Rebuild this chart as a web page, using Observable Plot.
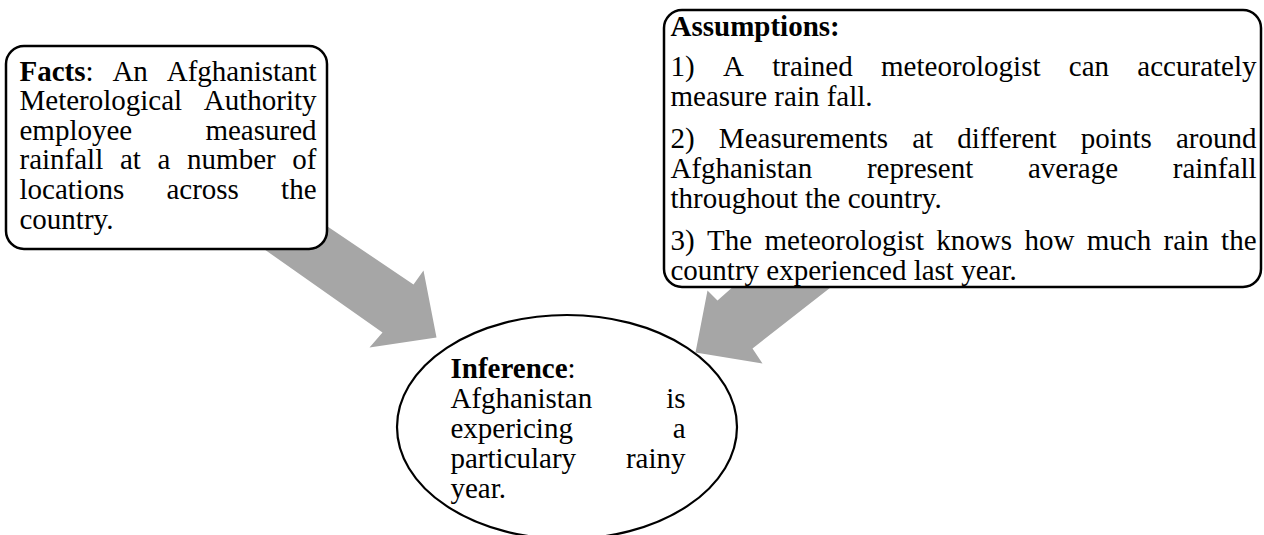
<!DOCTYPE html>
<html><head><meta charset="utf-8">
<script src="https://cdn.jsdelivr.net/npm/d3@7"></script>
<script src="https://cdn.jsdelivr.net/npm/@observablehq/plot@0.6"></script>
<style>html,body{margin:0;padding:0;background:#fff;overflow:hidden;}</style>
</head><body><div id="chart"></div>
<script>
// ---------- text content (bold segments between *) ----------
const factsLines = ["*Facts*: An Afghanistant", "Meterological Authority", "employee measured", "rainfall at a number of", "locations across the", "country."];
const assumptionsTitle = ["*Assumptions:*"];
const assumption1 = ["1) A trained meteorologist can accurately", "measure rain fall."];
const assumption2 = ["2) Measurements at different points around", "Afghanistan represent average rainfall", "throughout the country."];
const assumption3 = ["3) The meteorologist knows how much rain the", "country experienced last year."];
const inferenceTitle = ["*Inference*:"];
const inferenceLines = ["Afghanistan is", "expericing a", "particulary rainy", "year."];

// ---------- layout ----------
const W = 1264, H = 535;
const FS = 29;
const FONT = "Liberation Serif";

const factsBox = {x1: 6, x2: 327, y1: 46, y2: 249};
const assumBox = {x1: 664, x2: 1261, y1: 10, y2: 287};
const ellipse = {cx: 567, cy: 427, rx: 170, ry: 112};

const blocks = [
  {lines: factsLines, x0: 19, x1: 316, y: 80, lh: 29.6},
  {lines: assumptionsTitle, x0: 670, x1: 1256, y: 35, lh: 30},
  {lines: assumption1, x0: 670, x1: 1256, y: 75, lh: 30},
  {lines: assumption2, x0: 670, x1: 1256, y: 147, lh: 30},
  {lines: assumption3, x0: 670, x1: 1256, y: 249, lh: 30},
  {lines: inferenceTitle, x0: 450, x1: 685, y: 377, lh: 30},
  {lines: inferenceLines, x0: 450, x1: 685, y: 407, lh: 30}
];

const arrowShapes = {
  left:  [[290,201],[413,284],[423,270],[436,337],[369,347],[382,332],[230,225]],
  right: [[760,262],[717,300],[707,290],[695,352],[762,363],[752,348],[862,262]]
};

// ---------- text layout (justified) ----------
const ctx = document.createElement("canvas").getContext("2d");
function measure(s, bold) {
  ctx.font = `${bold ? "bold " : ""}${FS}px "${FONT}"`;
  return ctx.measureText(s).width;
}
const spaceW = measure(" ", false);
const words = [];
for (const b of blocks) {
  b.lines.forEach((line, li) => {
    const y = b.y + li * b.lh;
    const ws = line.split(" ").map(w => {
      const segs = w.split("*").map((s, i) => ({s, bold: i % 2 === 1})).filter(d => d.s);
      segs.forEach(d => d.w = measure(d.s, d.bold));
      return {segs, w: d3.sum(segs, d => d.w)};
    });
    const last = li === b.lines.length - 1;
    const total = d3.sum(ws, d => d.w);
    const gap = (!last && ws.length > 1) ? (b.x1 - b.x0 - total) / (ws.length - 1) : spaceW;
    let x = b.x0;
    for (const wd of ws) {
      let sx = x;
      for (const sg of wd.segs) { words.push({x: sx, y, text: sg.s, bold: sg.bold}); sx += sg.w; }
      x += wd.w + gap;
    }
  });
}

const arrowPts = [];
for (const [k, pts] of Object.entries(arrowShapes)) for (const [x, y] of pts) arrowPts.push({arrow: k, x, y});

const chart = Plot.plot({
  width: W, height: H,
  marginTop: 0, marginRight: 0, marginBottom: 0, marginLeft: 0,
  x: {domain: [0, W], range: [0, W], axis: null},
  y: {domain: [0, H], range: [0, H], axis: null},
  style: {background: "#fff", overflow: "hidden"},
  marks: [
    Plot.line(arrowPts, {x: "x", y: "y", z: "arrow", curve: "linear-closed", fill: "#a6a6a6", stroke: "none"}),
    Plot.rect([factsBox, assumBox], {x1: "x1", x2: "x2", y1: "y1", y2: "y2", rx: 18, fill: "#fff", stroke: "#000", strokeWidth: 2.5}),
    Plot.rect([ellipse], {x1: d => d.cx - d.rx, x2: d => d.cx + d.rx, y1: d => d.cy - d.ry, y2: d => d.cy + d.ry,
      rx: ellipse.rx, ry: ellipse.ry, fill: "#fff", stroke: "#000", strokeWidth: 2.2}),
    Plot.text(words.filter(d => !d.bold), {x: "x", y: "y", text: "text", textAnchor: "start", lineAnchor: "bottom",
      fontFamily: FONT, fontSize: FS, fill: "#000"}),
    Plot.text(words.filter(d => d.bold), {x: "x", y: "y", text: "text", textAnchor: "start", lineAnchor: "bottom",
      fontFamily: FONT, fontSize: FS, fontWeight: "bold", fill: "#000"})
  ]
});
document.getElementById("chart").appendChild(chart);
</script>
</body></html>
